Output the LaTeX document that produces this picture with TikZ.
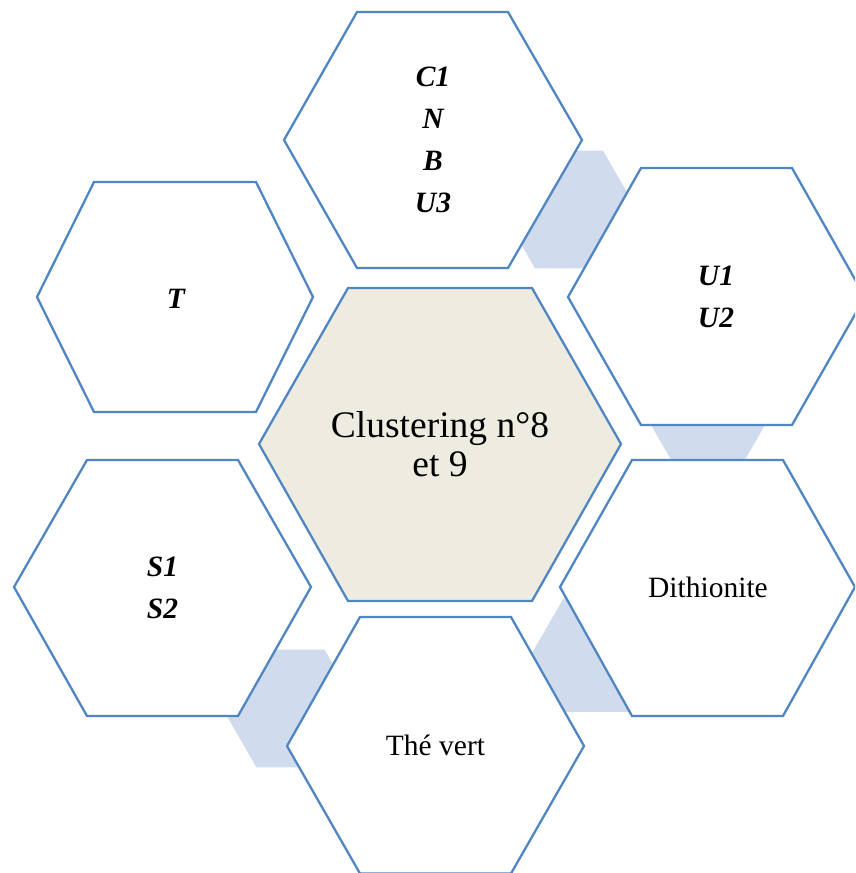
\documentclass[tikz,border=0pt]{standalone}
\usepackage{fontspec}
\setmainfont{Liberation Serif}
\definecolor{hexblue}{RGB}{80,134,193}
\definecolor{connblue}{RGB}{208,219,238}
\definecolor{centerfill}{RGB}{238,236,225}
\begin{document}
\begin{tikzpicture}[x=1pt,y=-1pt,
  hexshape/.style={draw=hexblue,line width=2.3pt,fill=white,line join=miter},
  centershape/.style={hexshape,fill=centerfill},
  connshape/.style={fill=connblue,draw=none},
  lbl/.style={inner sep=0pt,align=center,font=\fontsize{29.5}{42}\selectfont},
  lblbi/.style={lbl,font=\fontsize{29.5}{42}\selectfont\bfseries\itshape},
  lblbig/.style={inner sep=0pt,align=center,font=\fontsize{37.5}{38.5}\selectfont}]
\useasboundingbox (0,0) rectangle (855,873);
\clip (0,0) rectangle (855,873);
% light blue link hexagons (behind)
\fill[connshape] (501,209.5) -- ++(34,-58.9) -- ++(68,0) -- ++(34,58.9) -- ++(-34,58.9) -- ++(-68,0) -- cycle;
\fill[connshape] (640,406) -- ++(34,-58.9) -- ++(68,0) -- ++(34,58.9) -- ++(-34,58.9) -- ++(-68,0) -- cycle;
\fill[connshape] (532,653) -- ++(34,-58.9) -- ++(68,0) -- ++(34,58.9) -- ++(-34,58.9) -- ++(-68,0) -- cycle;
\fill[connshape] (222.5,708.5) -- ++(34,-58.9) -- ++(68,0) -- ++(34,58.9) -- ++(-34,58.9) -- ++(-68,0) -- cycle;
% outer hexagons
\path[hexshape] (284,140) -- (357,12) -- (508,12) -- (582,140) -- (508,268) -- (357,268) -- cycle;
\path[hexshape] (568,297) -- (641,168) -- (792,168) -- (865,297) -- (792,425) -- (641,425) -- cycle;
\path[hexshape] (37,297) -- (94,182) -- (256,182) -- (313,297) -- (256,412) -- (94,412) -- cycle;
\path[hexshape] (14,587) -- (87,460) -- (238,460) -- (311,587) -- (238,716) -- (87,716) -- cycle;
\path[hexshape] (560,587) -- (632,460) -- (783,460) -- (855,587) -- (783,716) -- (632,716) -- cycle;
\path[hexshape] (287,746) -- (360,617) -- (511,617) -- (584,746) -- (511,873.5) -- (360,873.5) -- cycle;
% central hexagon
\path[centershape] (259,444) -- (348,288) -- (532,288) -- (621,444) -- (532,601) -- (348,601) -- cycle;
% labels
\node[lblbi] (top) at (433,140) {C1\\N\\B\\U3};
\node[lblbi] (uu) at (716,296.5) {U1\\U2};
\node[lblbi,anchor=base] (t) at (176,308) {T};
\node[lblbi] (ss) at (162.5,588) {S1\\S2};
\node[lbl,anchor=base] (dith) at (708,597) {Dithionite};
\node[lbl,anchor=base] (the) at (435.5,755) {Thé vert};
\node[lblbig] (center) at (440,444) {Clustering n°8\\et 9};
\end{tikzpicture}
\end{document}
